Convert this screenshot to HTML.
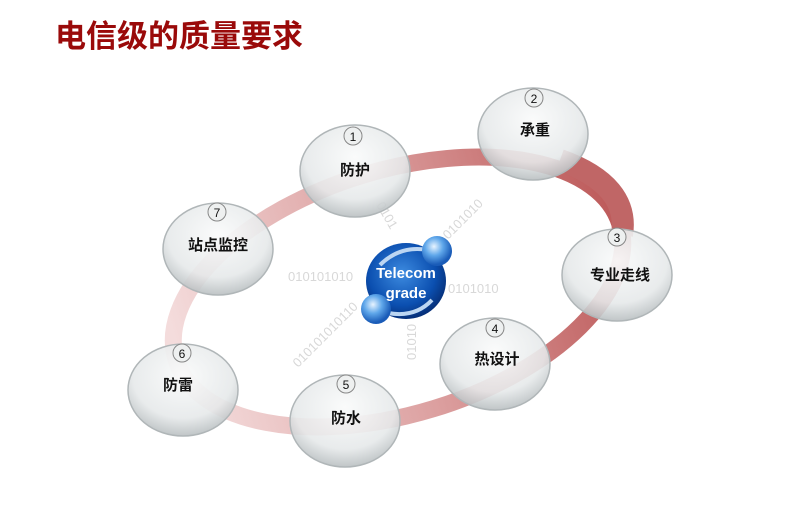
<!DOCTYPE html>
<html><head><meta charset="utf-8"><style>
html,body{margin:0;padding:0;background:#fff;width:787px;height:527px;overflow:hidden}
svg{display:block}
</style></head><body>
<svg width="787" height="527" viewBox="0 0 787 527" xmlns="http://www.w3.org/2000/svg" font-family="'Liberation Sans','Noto Sans CJK SC',sans-serif">
<defs>
<linearGradient id="ring" gradientUnits="userSpaceOnUse" x1="170" y1="0" x2="630" y2="0">
<stop offset="0" stop-color="#f4dcdc"/><stop offset="0.5" stop-color="#dca0a0"/><stop offset="1" stop-color="#bd5a5a"/>
</linearGradient>
<radialGradient id="bub" cx="0.5" cy="0.35" r="0.65">
<stop offset="0" stop-color="#fafbfb" stop-opacity="0.95"/><stop offset="0.7" stop-color="#e6e9ea" stop-opacity="0.9"/><stop offset="1" stop-color="#b9bfc1" stop-opacity="0.9"/>
</radialGradient>
<radialGradient id="glob" cx="0.45" cy="0.4" r="0.6">
<stop offset="0" stop-color="#3d8be0"/><stop offset="0.7" stop-color="#0b4fb0"/><stop offset="1" stop-color="#06307a"/>
</radialGradient>
<radialGradient id="ball" cx="0.4" cy="0.35" r="0.6">
<stop offset="0" stop-color="#e8f4ff"/><stop offset="0.5" stop-color="#5fa7ea"/><stop offset="1" stop-color="#1a5cb8"/>
</radialGradient>
</defs>
<text x="55" y="47" font-size="31" font-weight="bold" fill="#9a0a0a" font-family="'Liberation Sans','Noto Sans CJK SC',sans-serif">电信级的质量要求</text>

<ellipse cx="398" cy="292" rx="232" ry="122" transform="rotate(-17 398 292)" fill="none" stroke="url(#ring)" stroke-width="17"/>
<path d="M560 160 Q630 185 622 235" fill="none" stroke="#c06666" stroke-width="22"/>

<g fill="#d8d8d8" font-size="13">
<text x="288" y="281">010101010</text>
<text x="448" y="293">0101010</text>
<text x="448" y="240" transform="rotate(-45 448 240)">0101010</text>
<text x="376" y="205" transform="rotate(60 376 205)">0101</text>
<text x="298" y="368" transform="rotate(-45 298 368)">010101010110</text>
<text x="416" y="360" transform="rotate(-90 416 360)">01010</text>
</g>

<g>
<ellipse cx="406" cy="281" rx="40" ry="38" fill="url(#glob)"/>
<path d="M380 265 Q400 245 428 250" fill="none" stroke="#bcd6f2" stroke-width="4"/>
<path d="M432 300 Q415 318 388 313" fill="none" stroke="#bcd6f2" stroke-width="4"/>
<ellipse cx="437" cy="251" rx="15" ry="15" fill="url(#ball)"/>
<ellipse cx="376" cy="309" rx="15" ry="15" fill="url(#ball)"/>
<text x="406" y="278" font-size="15" font-weight="bold" fill="#fff" text-anchor="middle">Telecom</text>
<text x="406" y="298" font-size="15" font-weight="bold" fill="#fff" text-anchor="middle">grade</text>
</g>

<g font-size="15" font-weight="bold" fill="#111" text-anchor="middle">
<g><ellipse cx="355" cy="171" rx="55" ry="46" fill="url(#bub)" stroke="#b0b6b8" stroke-width="1.5"/><circle cx="353" cy="136" r="9" fill="#eef0f0" stroke="#888"/><text x="353" y="141" font-size="12" font-weight="normal">1</text><text x="355" y="175">防护</text></g>
<g><ellipse cx="533" cy="134" rx="55" ry="46" fill="url(#bub)" stroke="#b0b6b8" stroke-width="1.5"/><circle cx="534" cy="98" r="9" fill="#eef0f0" stroke="#888"/><text x="534" y="103" font-size="12" font-weight="normal">2</text><text x="535" y="135">承重</text></g>
<g><ellipse cx="617" cy="275" rx="55" ry="46" fill="url(#bub)" stroke="#b0b6b8" stroke-width="1.5"/><circle cx="617" cy="237" r="9" fill="#eef0f0" stroke="#888"/><text x="617" y="242" font-size="12" font-weight="normal">3</text><text x="620" y="280">专业走线</text></g>
<g><ellipse cx="495" cy="364" rx="55" ry="46" fill="url(#bub)" stroke="#b0b6b8" stroke-width="1.5"/><circle cx="495" cy="328" r="9" fill="#eef0f0" stroke="#888"/><text x="495" y="333" font-size="12" font-weight="normal">4</text><text x="497" y="364">热设计</text></g>
<g><ellipse cx="345" cy="421" rx="55" ry="46" fill="url(#bub)" stroke="#b0b6b8" stroke-width="1.5"/><circle cx="346" cy="384" r="9" fill="#eef0f0" stroke="#888"/><text x="346" y="389" font-size="12" font-weight="normal">5</text><text x="346" y="423">防水</text></g>
<g><ellipse cx="183" cy="390" rx="55" ry="46" fill="url(#bub)" stroke="#b0b6b8" stroke-width="1.5"/><circle cx="182" cy="353" r="9" fill="#eef0f0" stroke="#888"/><text x="182" y="358" font-size="12" font-weight="normal">6</text><text x="178" y="390">防雷</text></g>
<g><ellipse cx="218" cy="249" rx="55" ry="46" fill="url(#bub)" stroke="#b0b6b8" stroke-width="1.5"/><circle cx="217" cy="212" r="9" fill="#eef0f0" stroke="#888"/><text x="217" y="217" font-size="12" font-weight="normal">7</text><text x="218" y="250">站点监控</text></g>
</g>
</svg>
</body></html>
